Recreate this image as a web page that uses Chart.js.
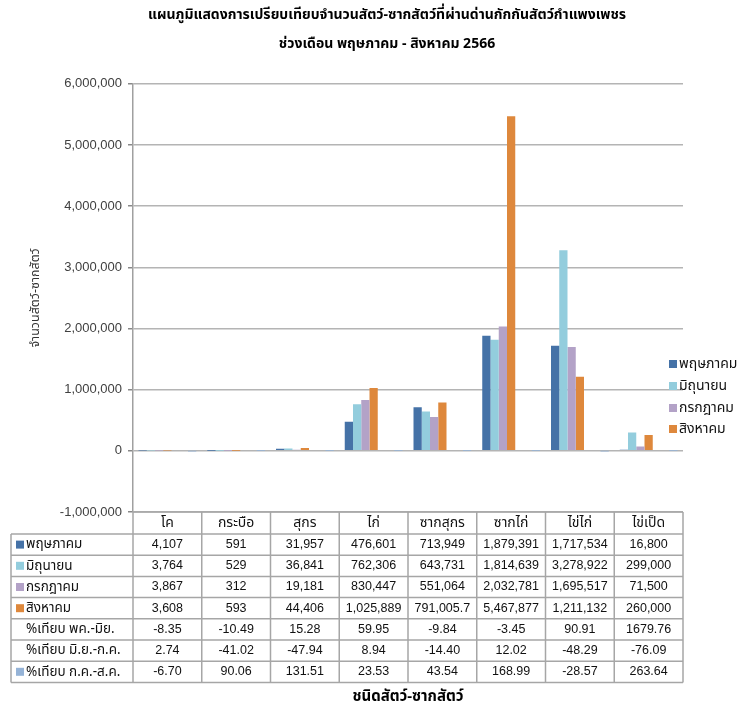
<!DOCTYPE html>
<html>
<head>
<meta charset="utf-8">
<script src="https://cdn.jsdelivr.net/npm/chart.js@4.4.1/dist/chart.umd.min.js"></script>
<style>
  html, body { margin: 0; padding: 0; background: #fff; }
  #wrap { width: 738px; height: 711px; }
</style>
</head>
<body>
<div id="wrap"><canvas id="bar-chart"></canvas></div>
<script>
var categories = ['โค', 'กระบือ', 'สุกร', 'ไก่', 'ซากสุกร', 'ซากไก่', 'ไข่ไก่', 'ไข่เป็ด'];
var may = [4107, 591, 31957, 476601, 713949, 1879391, 1717534, 16800];
var jun = [3764, 529, 36841, 762306, 643731, 1814639, 3278922, 299000];
var jul = [3867, 312, 19181, 830447, 551064, 2032781, 1695517, 71500];
var aug = [3608, 593, 44406, 1025889, 791005.7, 5467877, 1211132, 260000];
var pctMayJun = [-8.35, -10.49, 15.28, 59.95, -9.84, -3.45, 90.91, 1679.76];
var pctJunJul = [2.74, -41.02, -47.94, 8.94, -14.40, 12.02, -48.29, -76.09];
var pctJulAug = [-6.70, 90.06, 131.51, 23.53, 43.54, 168.99, -28.57, 263.64];
var yMin = -1000000, yMax = 6000000, yStep = 1000000;

var thaiFont = "'Noto Sans Thai', 'Loma', 'Garuda', 'Tahoma', 'Liberation Sans', sans-serif";
var numFont = "'Liberation Sans', Arial, sans-serif";
var lineColor = '#a6a6a6';

// draws the data table under the plot plus the small legend at the right
var tablePlugin = {
  id: 'dataTable',
  afterDraw: function (chart) {
    var ctx = chart.ctx;
    var area = chart.chartArea;
    var xs = chart.scales.x;
    var colW = xs.width / categories.length;
    var headTop = area.bottom, headH = 22, rowH = 21.2, labelLeft = 11;
    var sets = chart.data.datasets;
    var rowsTop = headTop + headH;
    var tableBottom = rowsTop + rowH * sets.length;

    ctx.save();
    ctx.strokeStyle = lineColor;
    ctx.lineWidth = 1.5;
    ctx.beginPath();
    // header row
    ctx.moveTo(area.left, headTop); ctx.lineTo(area.right, headTop);
    for (var r = 0; r <= sets.length; r++) {
      ctx.moveTo(labelLeft, rowsTop + r * rowH);
      ctx.lineTo(area.right, rowsTop + r * rowH);
    }
    ctx.moveTo(labelLeft, rowsTop); ctx.lineTo(labelLeft, tableBottom);
    for (var c = 0; c <= categories.length; c++) {
      var cx = area.left + c * colW;
      ctx.moveTo(cx, headTop); ctx.lineTo(cx, tableBottom);
    }
    ctx.stroke();

    ctx.textBaseline = 'middle';
    sets.forEach(function (ds, i) {
      var cy = rowsTop + i * rowH + rowH / 2;
      if (ds.showKey) {
        ctx.fillStyle = ds.backgroundColor;
        ctx.fillRect(16, cy - 4, 8, 8);
      }
      ctx.fillStyle = '#111';
      ctx.textAlign = 'left';
      ctx.font = '13.5px ' + thaiFont;
      ctx.fillText(ds.label, 26, cy + 1);
      ctx.textAlign = 'center';
      ctx.font = '12.5px ' + numFont;
      ds.data.forEach(function (v, j) {
        var txt = ds.isPct ? v.toFixed(2) : v.toLocaleString('en-US');
        ctx.fillText(txt, xs.getPixelForValue(j), cy);
      });
    });

    // legend, only the four month series
    var legendY = [364, 386, 408, 429];
    ctx.font = '14px ' + thaiFont;
    sets.slice(0, 4).forEach(function (ds, i) {
      ctx.fillStyle = ds.backgroundColor;
      ctx.fillRect(669, legendY[i] - 4, 8, 8);
      ctx.fillStyle = '#111';
      ctx.textAlign = 'left';
      ctx.fillText(ds.label, 679, legendY[i] + 1);
    });
    ctx.restore();
  }
};

var ctx = document.getElementById('bar-chart');
var myBarChart = new Chart(ctx, {
  type: 'bar',
  data: {
    labels: categories,
    datasets: [
      { label: 'พฤษภาคม', data: may, backgroundColor: '#4572A7', showKey: true },
      { label: 'มิถุนายน', data: jun, backgroundColor: '#93CDDD', showKey: true },
      { label: 'กรกฎาคม', data: jul, backgroundColor: '#B3A2C7', showKey: true },
      { label: 'สิงหาคม', data: aug, backgroundColor: '#DE883C', showKey: true },
      { label: '%เทียบ พค.-มิย.', data: pctMayJun, backgroundColor: 'rgba(0,0,0,0)', isPct: true },
      { label: '%เทียบ มิ.ย.-ก.ค.', data: pctJunJul, backgroundColor: 'rgba(0,0,0,0)', isPct: true },
      { label: '%เทียบ ก.ค.-ส.ค.', data: pctJulAug, backgroundColor: '#95B3D7', isPct: true, showKey: true }
    ]
  },
  options: {
    responsive: true,
    maintainAspectRatio: false,
    animation: false,
    datasets: { bar: { categoryPercentage: 0.84, barPercentage: 1 } },
    layout: { padding: { left: 36, right: 0, top: 0, bottom: 0 } },
    plugins: {
      legend: { display: false },
      tooltip: { enabled: false },
      title: {
        display: true,
        text: ['แผนภูมิแสดงการเปรียบเทียบจำนวนสัตว์-ซากสัตว์ที่ผ่านด่านกักกันสัตว์กำแพงเพชร', 'ช่วงเดือน พฤษภาคม - สิงหาคม 2566'],
        color: '#000',
        font: { family: thaiFont, size: 14, weight: 'bold', lineHeight: 2.1 },
        padding: { top: 1, bottom: 24 }
      }
    },
    scales: {
      x: {
        grid: { display: false, drawTicks: false },
        border: { display: false },
        ticks: { color: '#111', padding: 4, font: { family: thaiFont, size: 14 } },
        title: {
          display: true,
          text: 'ชนิดสัตว์-ซากสัตว์',
          color: '#000',
          font: { family: thaiFont, size: 15, weight: 'bold' },
          padding: { top: 0, bottom: 4 }
        },
        afterFit: function (scale) { scale.height = 199; }
      },
      y: {
        min: yMin,
        max: yMax,
        ticks: {
          stepSize: yStep,
          color: '#404040',
          padding: 6,
          font: { family: numFont, size: 13 },
          callback: function (v) { return v.toLocaleString('en-US'); }
        },
        grid: { color: '#b4b4b4', lineWidth: 1.5, tickLength: 5, tickColor: '#888' },
        border: { color: '#a0a0a0', width: 1.5 },
        title: {
          display: true,
          text: 'จำนวนสัตว์-ซากสัตว์',
          color: '#333',
          font: { family: thaiFont, size: 12.5 },
          padding: { top: -7, bottom: 0 }
        },
        afterFit: function (scale) { scale.width = 97; }
      },
      yRight: {
        position: 'right',
        display: true,
        min: 0,
        max: 1,
        grid: { display: false, drawTicks: false },
        border: { display: false },
        ticks: { display: false },
        afterFit: function (scale) { scale.width = 55; }
      }
    }
  },
  plugins: [tablePlugin]
});
</script>
</body>
</html>
